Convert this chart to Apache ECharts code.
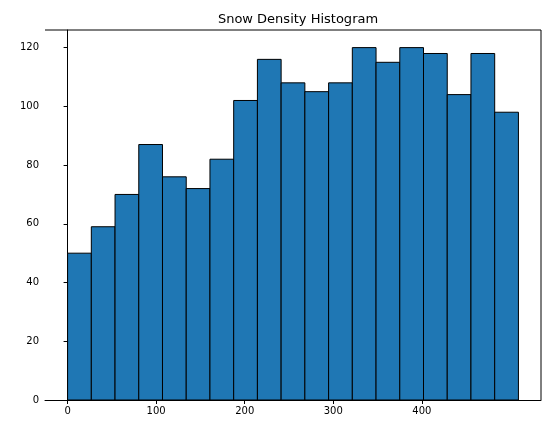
<!DOCTYPE html>
<html><head><meta charset="utf-8">
<script src="https://cdn.jsdelivr.net/npm/echarts@6/dist/echarts.min.js"></script>
<style>html,body{margin:0;padding:0;background:#fff}#c{width:552px;height:433px}</style>
</head><body><div id="c"></div>
<script>
const binStart = 0;
const binWidth = 26.79;
const counts = [50, 59, 70, 87, 76, 72, 82, 102, 116, 108, 105, 108, 120, 115, 120, 118, 104, 118, 98];
const xTicks = [0, 100, 200, 300, 400];
const yTicks = [0, 20, 40, 60, 80, 100, 120];

const data = counts.map((c, i) => [binStart + i * binWidth, binStart + (i + 1) * binWidth, c]);
const chart = echarts.init(document.getElementById('c'));
const font = 'DejaVu Sans';
chart.setOption({
  animation: false,
  title: {text: 'Snow Density Histogram', left: 293, top: 8, textAlign: 'center',
    textStyle: {fontFamily: font, fontSize: 13, fontWeight: 'normal', color: '#000'}},
  grid: {left: 45, right: 11, top: 30, bottom: 33},
  xAxis: {type: 'value', min: -25.5, max: 534.5,
    axisLine: {onZero: false, lineStyle: {color: '#000'}},
    axisTick: {show: true, length: 4, customValues: xTicks, lineStyle: {color: '#000'}},
    axisLabel: {customValues: xTicks, color: '#000', fontFamily: font, fontSize: 10, margin: 6},
    splitLine: {show: false}},
  yAxis: {type: 'value', min: 0, max: 126,
    axisLine: {show: true, lineStyle: {color: '#000'}},
    axisTick: {show: true, length: 4, customValues: yTicks, lineStyle: {color: '#000'}},
    axisLabel: {customValues: yTicks, color: '#000', fontFamily: font, fontSize: 10, margin: 6},
    splitLine: {show: false}},
  series: [{
    type: 'custom',
    data: data,
    renderItem: function (params, api) {
      const p0 = api.coord([api.value(0), 0]);
      const p1 = api.coord([api.value(1), api.value(2)]);
      return {type: 'rect', shape: {x: p0[0], y: p1[1], width: p1[0] - p0[0], height: p0[1] - p1[1]},
        style: {fill: '#1f77b4', stroke: '#000', lineWidth: 1}};
    }
  }]
});
// top and right spines
chart.setOption({graphic: [
  {type: 'line', shape: {x1: 45, y1: 30, x2: 541, y2: 30}, style: {stroke: '#000', lineWidth: 1}},
  {type: 'line', shape: {x1: 541, y1: 30, x2: 541, y2: 400}, style: {stroke: '#000', lineWidth: 1}}
]});
</script></body></html>
